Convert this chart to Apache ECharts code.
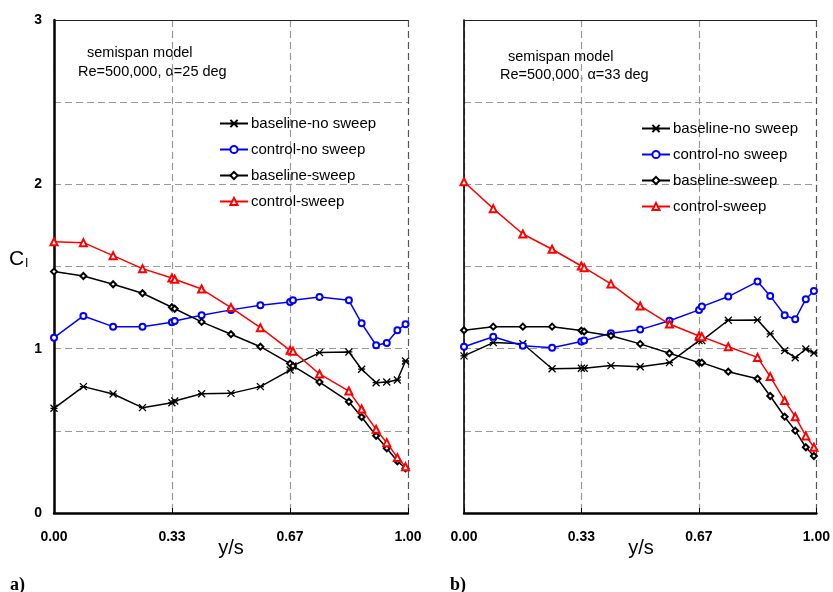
<!DOCTYPE html>
<html>
<head>
<meta charset="utf-8">
<script src="https://cdn.jsdelivr.net/npm/echarts@6/dist/echarts.min.js"></script>
<style>html,body{margin:0;padding:0;background:#fff;}#c{width:833px;height:592px;}</style>
</head>
<body>
<div id="c"></div>
<script>
// spanwise stations y/s (two near-duplicate points at 0.33 and 0.67)
var xs = [0, 0.083, 0.167, 0.25, 0.333, 0.341, 0.417, 0.5, 0.583, 0.667, 0.675, 0.75, 0.833, 0.869, 0.91, 0.94, 0.97, 0.993];
var xTicks = ['0.00', '0.33', '0.67', '1.00'];
var seriesNames = ['baseline-no sweep', 'control-no sweep', 'baseline-sweep', 'control-sweep'];

// panel a) alpha = 25 deg
var a_baseNoSweep = [0.637, 0.769, 0.724, 0.641, 0.671, 0.682, 0.726, 0.728, 0.769, 0.870, 0.895, 0.976, 0.980, 0.875, 0.793, 0.797, 0.809, 0.925];
var a_ctrlNoSweep = [1.067, 1.199, 1.134, 1.134, 1.161, 1.169, 1.203, 1.236, 1.264, 1.284, 1.294, 1.315, 1.294, 1.154, 1.021, 1.035, 1.112, 1.148];
var a_baseSweep   = [1.469, 1.442, 1.392, 1.337, 1.252, 1.243, 1.163, 1.088, 1.012, 0.909, 0.895, 0.797, 0.677, 0.584, 0.470, 0.394, 0.315, 0.272];
var a_ctrlSweep   = [1.651, 1.645, 1.566, 1.487, 1.430, 1.422, 1.363, 1.250, 1.128, 0.990, 0.985, 0.846, 0.742, 0.633, 0.509, 0.428, 0.337, 0.282];

// panel b) alpha = 33 deg
var b_baseNoSweep = [0.956, 1.037, 1.030, 0.878, 0.881, 0.881, 0.897, 0.890, 0.915, 1.049, 1.049, 1.173, 1.175, 1.090, 0.988, 0.945, 0.998, 0.974];
var b_ctrlNoSweep = [1.012, 1.073, 1.018, 1.006, 1.043, 1.049, 1.094, 1.116, 1.170, 1.236, 1.256, 1.317, 1.408, 1.321, 1.203, 1.179, 1.301, 1.351];
var b_baseSweep   = [1.112, 1.134, 1.134, 1.134, 1.110, 1.104, 1.079, 1.029, 0.972, 0.915, 0.915, 0.860, 0.817, 0.712, 0.586, 0.501, 0.400, 0.347];
var b_ctrlSweep   = [2.016, 1.852, 1.698, 1.605, 1.503, 1.493, 1.394, 1.260, 1.150, 1.077, 1.073, 1.012, 0.947, 0.830, 0.684, 0.586, 0.469, 0.400];

var FONT = 'Liberation Sans, Arial, Helvetica, sans-serif';
var STAR = 'path://M0,0L10,10M10,0L0,10M0,5L10,5';

function pts(v) { return xs.map(function (x, i) { return [x, v[i]]; }); }

var styles = [
  { color: '#000', symbol: STAR, size: 7, bw: 1.3 },
  { color: '#0000ff', symbol: 'emptyCircle', size: 6, bw: 1.2 },
  { color: '#000', symbol: 'emptyDiamond', size: 6, bw: 1.2 },
  { color: '#ff0000', symbol: 'emptyTriangle', size: 7, bw: 1.2 }
];

function mkSeries(arrs, gi) {
  return arrs.map(function (v, k) {
    var s = styles[k];
    return {
      name: seriesNames[k], type: 'line', xAxisIndex: gi, yAxisIndex: gi,
      data: pts(v), symbol: s.symbol, symbolSize: s.size, showSymbol: true,
      lineStyle: { color: s.color, width: 1.5 },
      itemStyle: { color: s.color, borderColor: s.color, borderWidth: s.bw },
      emphasis: { disabled: true }, animation: false, z: 3 + k
    };
  });
}

function xAx(gi) {
  return {
    type: 'value', gridIndex: gi, min: 0, max: 1, interval: 1 / 3,
    axisLine: { show: true, lineStyle: { color: '#000', width: 2.5 } },
    axisTick: { show: true, inside: true, length: 5, lineStyle: { color: '#000', width: 1 } },
    axisLabel: {
      margin: 17, fontFamily: FONT, fontSize: 14, fontWeight: 'bold', color: '#000',
      formatter: function (v) { return xTicks[Math.round(v * 3)] || ''; }
    },
    splitLine: { show: true, lineStyle: { color: ['#999', '#999', '#999', '#555'], type: [7, 4], width: 1.2 } }
  };
}
function xTop(gi) {
  return {
    type: 'value', gridIndex: gi, min: 0, max: 1, position: 'top',
    axisLine: { show: true, lineStyle: { color: '#222', width: 1.2 } },
    axisTick: { show: false }, axisLabel: { show: false }, splitLine: { show: false }
  };
}
function yAx(gi, labels, lw) {
  return {
    type: 'value', gridIndex: gi, min: 0, max: 3, interval: 0.5,
    axisLine: { show: true, lineStyle: { color: '#000', width: lw } },
    axisTick: { show: false },
    axisLabel: {
      show: labels, margin: 12, fontFamily: FONT, fontSize: 14, fontWeight: 'bold', color: '#000',
      formatter: function (v) { return (v % 1 === 0) ? String(v) : ''; }
    },
    splitLine: { show: true, lineStyle: { color: '#999', type: [7, 4], width: 1.2 } }
  };
}

function legend(left, top) {
  return {
    orient: 'vertical', left: left, top: top, itemWidth: 28, itemHeight: 9, itemGap: 11,
    data: seriesNames, selectedMode: false,
    textStyle: { fontFamily: FONT, fontSize: 15, color: '#000', padding: [0, 0, 0, -2] }
  };
}

var chart = echarts.init(document.getElementById('c'), null, { renderer: 'canvas' });
chart.setOption({
  animation: false,
  backgroundColor: '#fff',
  grid: [
    { left: 54, top: 20, width: 354, height: 493 },
    { left: 464, top: 20, width: 354, height: 493 }
  ],
  xAxis: [xAx(0), xAx(1), xTop(0), xTop(1)],
  yAxis: [yAx(0, true, 2.5), yAx(1, false, 1.6)],
  legend: [legend(214, 111), legend(636, 116)],
  series: mkSeries([a_baseNoSweep, a_ctrlNoSweep, a_baseSweep, a_ctrlSweep], 0)
    .concat(mkSeries([b_baseNoSweep, b_ctrlNoSweep, b_baseSweep, b_ctrlSweep], 1)),
  graphic: [
    { type: 'text', left: 87, top: 45, style: { text: 'semispan model', font: '14.5px ' + FONT, fill: '#000' } },
    { type: 'text', left: 78, top: 64, style: { text: 'Re=500,000, \u03b1=25 deg', font: '14.5px ' + FONT, fill: '#000' } },
    { type: 'text', left: 508, top: 49, style: { text: 'semispan model', font: '14.5px ' + FONT, fill: '#000' } },
    { type: 'text', left: 500, top: 67, style: { text: 'Re=500,000, \u03b1=33 deg', font: '14.5px ' + FONT, fill: '#000' } },
    { type: 'text', x: 231, y: 548, style: { text: 'y/s', font: '20px ' + FONT, fill: '#000', align: 'center', verticalAlign: 'middle' } },
    { type: 'text', x: 641, y: 548, style: { text: 'y/s', font: '20px ' + FONT, fill: '#000', align: 'center', verticalAlign: 'middle' } },
    { type: 'text', left: 9, top: 247, style: {
        text: '{c|C}{s|l}', fill: '#000',
        rich: { c: { fontFamily: FONT, fontSize: 21, verticalAlign: 'bottom', lineHeight: 22 },
                s: { fontFamily: FONT, fontSize: 13, padding: [10, 0, 0, 1], lineHeight: 22 } } } },
    { type: 'text', left: 10, top: 576, style: { text: 'a)', font: 'bold 18px Liberation Serif, DejaVu Serif, serif', fill: '#000' } },
    { type: 'text', left: 450, top: 576, style: { text: 'b)', font: 'bold 18px Liberation Serif, DejaVu Serif, serif', fill: '#000' } }
  ]
});
</script>
</body>
</html>
